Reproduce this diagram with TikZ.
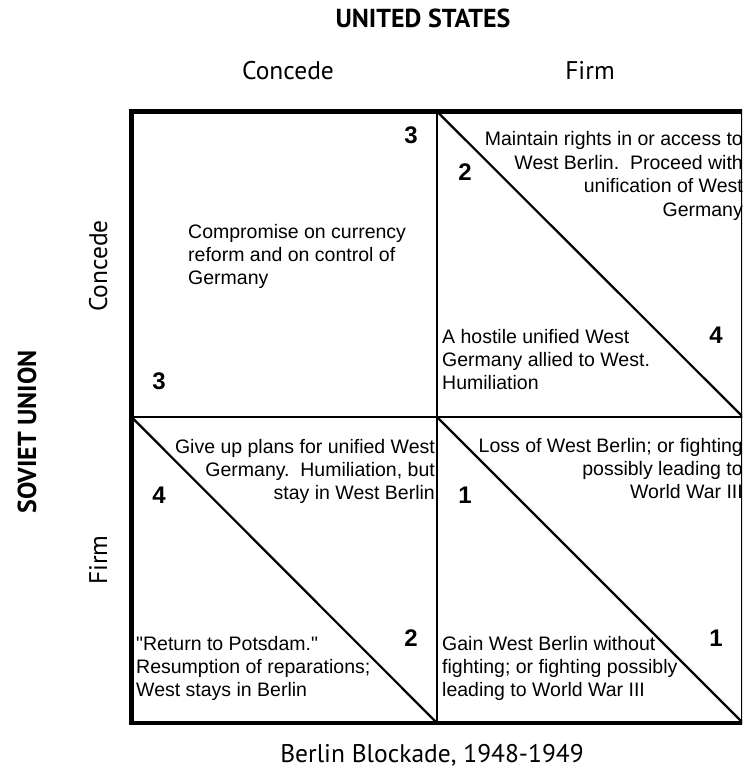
\documentclass[tikz,border=0pt]{standalone}
\usepackage{fontspec}
\newfontfamily\cellfamily{Liberation Sans}
\newfontfamily\headfont{PT Sans}
\newcommand\blockL[1]{\parbox[t]{300pt}{\raggedright #1}}
\newcommand\blockR[1]{\parbox[t]{300pt}{\raggedleft #1}}
\begin{document}
\begin{tikzpicture}[x=1pt,y=-1pt,
  outcome/.style={inner sep=0pt,font=\cellfamily\fontsize{19.5}{23.4}\selectfont},
  payoff/.style={inner sep=0pt,font=\cellfamily\fontsize{24}{28}\selectfont\bfseries},
  header/.style={inner sep=0pt,font=\headfont\fontsize{25.5}{30}\selectfont},
  player/.style={inner sep=0pt,font=\headfont\bfseries\fontsize{26}{30}\selectfont},
  frame/.style={line width=4.5pt},
  midv/.style={line width=1.5pt},
  midh/.style={line width=2.5pt},
  split/.style={line width=2.2pt}]
\useasboundingbox (0,0) rectangle (742,770);
\clip (0,0) rectangle (742,770);

% grid corners
\coordinate (tl) at (131.5,111.5);
\coordinate (tm) at (437,111.5);
\coordinate (tr) at (743,111.5);
\coordinate (ml) at (131.5,417);
\coordinate (mm) at (437,417);
\coordinate (mr) at (743,417);
\coordinate (bl) at (131.5,723);
\coordinate (bm) at (437,723);
\coordinate (br) at (743,723);

% headings
\node[player,anchor=base] (us) at (423,28) {UNITED STATES};
\node[header,anchor=base] (usc) at (288,80) {Concede};
\node[header,anchor=base] (usf) at (590,80) {Firm};
\node[player,rotate=90,anchor=base] (su) at (36,432) {SOVIET UNION};
\node[header,rotate=90,anchor=base] (suc) at (107,266) {Concede};
\node[header,rotate=90,anchor=base] (suf) at (107,560) {Firm};
\node[header,anchor=base] (cap) at (432,762) {Berlin Blockade, 1948-1949};

% cell dividers and diagonals
\draw[midv] (tm) -- (bm);
\draw[midh] (ml) -- (mr);
\draw[split] (tm) -- (mr);
\draw[split] (ml) -- (bm);
\draw[split] (mm) -- (br);
\draw[frame] (tl) rectangle (br);

% Concede / Concede
\node[outcome,anchor=base west] (cc) at (188,238)
  {\blockL{Compromise on currency\\reform and on control of\\Germany}};
\node[payoff] (ccus) at (411,135) {3};
\node[payoff] (ccsu) at (159,381) {3};

% Firm (US) / Concede (SU)
\node[outcome,anchor=base east] (fcus) at (743,146)
  {\blockR{Maintain rights in or access to\\West Berlin.\ \ Proceed with\hspace*{9pt}\\unification of West\\Germany}};
\node[outcome,anchor=base west] (fcsu) at (442,343)
  {\blockL{A hostile unified West\\Germany allied to West.\\Humiliation}};
\node[payoff] (fcp2) at (465,172) {2};
\node[payoff] (fcp4) at (716,335) {4};

% Concede (US) / Firm (SU)
\node[outcome,anchor=base east] (cfus) at (435,453)
  {\blockR{Give up plans for unified West\\Germany.\ \ Humiliation, but\\stay in West Berlin}};
\node[outcome,anchor=base west] (cfsu) at (136,650)
  {\blockL{"Return to Potsdam."\\Resumption of reparations;\\West stays in Berlin}};
\node[payoff] (cfp4) at (159,495) {4};
\node[payoff] (cfp2) at (411,638) {2};

% Firm / Firm
\node[outcome,anchor=base east] (ffus) at (743,452)
  {\blockR{Loss of West Berlin; or fighting\\possibly leading to\hspace*{9pt}\\World War III}};
\node[outcome,anchor=base west] (ffsu) at (442,650)
  {\blockL{Gain West Berlin without\\fighting; or fighting possibly\\leading to World War III}};
\node[payoff] (ffp1a) at (465,495) {1};
\node[payoff] (ffp1b) at (716,638) {1};
\end{tikzpicture}
\end{document}
